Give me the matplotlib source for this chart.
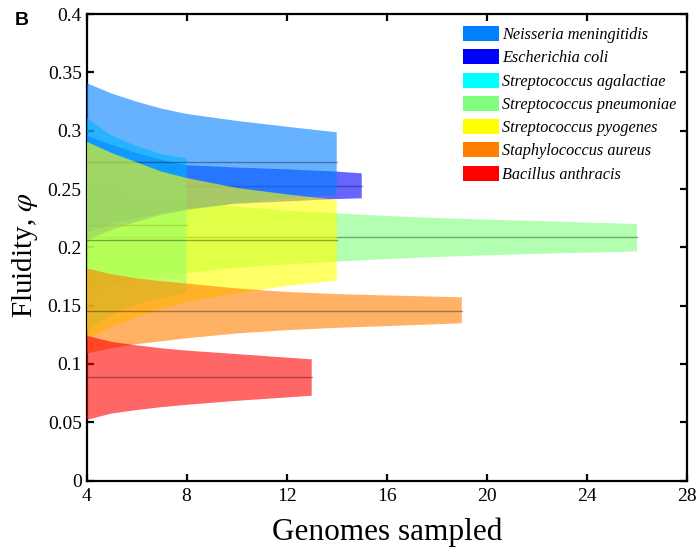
import matplotlib
matplotlib.use("Agg")
import matplotlib.pyplot as plt
from matplotlib.patches import Patch
from matplotlib.ticker import FuncFormatter, MultipleLocator
from matplotlib.font_manager import FontProperties

plt.rcParams['mathtext.fontset'] = 'stix'

# ---------------- data ----------------
labels = ["Neisseria meningitidis", "Escherichia coli", "Streptococcus agalactiae",
          "Streptococcus pneumoniae", "Streptococcus pyogenes", "Staphylococcus aureus",
          "Bacillus anthracis"]
colors = ["#0080FF", "#0000FF", "#00FFFF", "#80FF80", "#FFFF00", "#FF8000", "#FF0000"]

nm_x = [4, 5, 6, 7, 8, 10, 12, 14]
nm_up = [0.341, 0.332, 0.325, 0.319, 0.3145, 0.3085, 0.3035, 0.2987]
nm_lo = [0.206, 0.215, 0.222, 0.228, 0.232, 0.238, 0.242, 0.245]
nm_mean = 0.2732

ec_x = [4, 5, 6, 7, 8, 10, 12, 14, 15]
ec_up = [0.296, 0.288, 0.281, 0.275, 0.2705, 0.2685, 0.267, 0.265, 0.2635]
ec_lo = [0.213, 0.220, 0.225, 0.229, 0.233, 0.2375, 0.2395, 0.2415, 0.2421]
ec_mean = 0.2524

sa_x = [4, 5, 6, 7, 8]
sa_up = [0.311, 0.296, 0.287, 0.280, 0.2765]
sa_lo = [0.128, 0.142, 0.151, 0.157, 0.161]
sa_mean = 0.2192

pn_x = [4, 6, 8, 10, 12, 14, 16, 18, 20, 22, 24, 26]
pn_up = [0.255, 0.244, 0.239, 0.235, 0.2315, 0.2292, 0.227, 0.2252, 0.2238, 0.2227, 0.2213, 0.2201]
pn_lo = [0.162, 0.173, 0.178, 0.1825, 0.1855, 0.1878, 0.1900, 0.1918, 0.1932, 0.1945, 0.1955, 0.1965]
pn_mean = 0.2085

py_x = [4, 5, 6, 7, 8, 10, 12, 14]
py_up = [0.2907, 0.281, 0.273, 0.265, 0.2595, 0.251, 0.2455, 0.2407]
py_lo = [0.121, 0.132, 0.140, 0.147, 0.153, 0.1605, 0.167, 0.1715]
py_mean = 0.2064

au_x = [4, 5, 6, 7, 8, 10, 12, 14, 16, 19]
au_up = [0.182, 0.177, 0.1735, 0.171, 0.169, 0.1648, 0.1618, 0.160, 0.1588, 0.1572]
au_lo = [0.109, 0.1135, 0.117, 0.1195, 0.122, 0.1262, 0.129, 0.131, 0.1325, 0.1349]
au_mean = 0.1454

ba_x = [4, 5, 6, 7, 8, 10, 13]
ba_up = [0.1243, 0.119, 0.116, 0.1135, 0.1115, 0.1085, 0.104]
ba_lo = [0.052, 0.0575, 0.0605, 0.063, 0.065, 0.0684, 0.0728]
ba_mean = 0.0886

x_ticks = [4, 8, 12, 16, 20, 24, 28]

series = [
    (nm_x, nm_lo, nm_up, nm_mean),
    (ec_x, ec_lo, ec_up, ec_mean),
    (sa_x, sa_lo, sa_up, sa_mean),
    (pn_x, pn_lo, pn_up, pn_mean),
    (py_x, py_lo, py_up, py_mean),
    (au_x, au_lo, au_up, au_mean),
    (ba_x, ba_lo, ba_up, ba_mean),
]
draw_order = [3, 1, 2, 0, 4, 5, 6]

# ---------------- figure ----------------
fig = plt.figure(figsize=(6.99, 5.48), dpi=100)
ax = fig.add_axes([86.5 / 699, (548 - 480.6) / 548, (687 - 86.5) / 699, (480.6 - 14.2) / 548])

for k, i in enumerate(draw_order):
    xs, lo, up, m = series[i]
    ax.fill_between(xs, lo, up, facecolor=colors[i], alpha=0.6, lw=0, zorder=2 + k)
    ax.plot([xs[0], xs[-1]], [m, m], color="k", alpha=0.35, lw=1.0, zorder=2 + k + 0.5)

ax.set_xlim(4, 28)
ax.set_ylim(0, 0.4)
ax.set_xticks(x_ticks)
ax.yaxis.set_major_locator(MultipleLocator(0.05))
ax.yaxis.set_major_formatter(FuncFormatter(lambda v, p: "%g" % round(v, 3)))

serif = "Liberation Serif"
ax.tick_params(direction="in", length=5, width=1.6, top=True, right=True,
               labelsize=14, colors="black")
ax.tick_params(axis="x", pad=5)
ax.tick_params(axis="y", pad=3.5)
for lab in ax.get_xticklabels() + ax.get_yticklabels():
    lab.set_fontfamily(serif)
for s in ax.spines.values():
    s.set_linewidth(1.6)

ax.set_xlabel("Genomes sampled", fontsize=22.5, family=serif)
ax.set_ylabel(r"Fluidity, $\varphi$", fontsize=21, family=serif)
ax.xaxis.set_label_coords(0.5, -0.08)
ax.yaxis.set_label_coords(-0.078, 0.483)

handles = [Patch(facecolor=c, edgecolor="none") for c in colors]
ax.legend(handles, labels, loc="upper left",
          bbox_to_anchor=((463.3 - 86.5) / 600.5, (480.6 - 26) / 466.4),
          frameon=False, prop=FontProperties(family=serif, style="italic", size=11.7),
          handlelength=2.2, handleheight=1.05, labelspacing=0.38,
          handletextpad=0.2, borderaxespad=0, borderpad=0)

fig.text(15 / 699, 1 - 12 / 548, "B", fontsize=14, fontweight="bold",
         family="Liberation Sans", ha="left", va="top")

fig.savefig("out.png", dpi=100)
